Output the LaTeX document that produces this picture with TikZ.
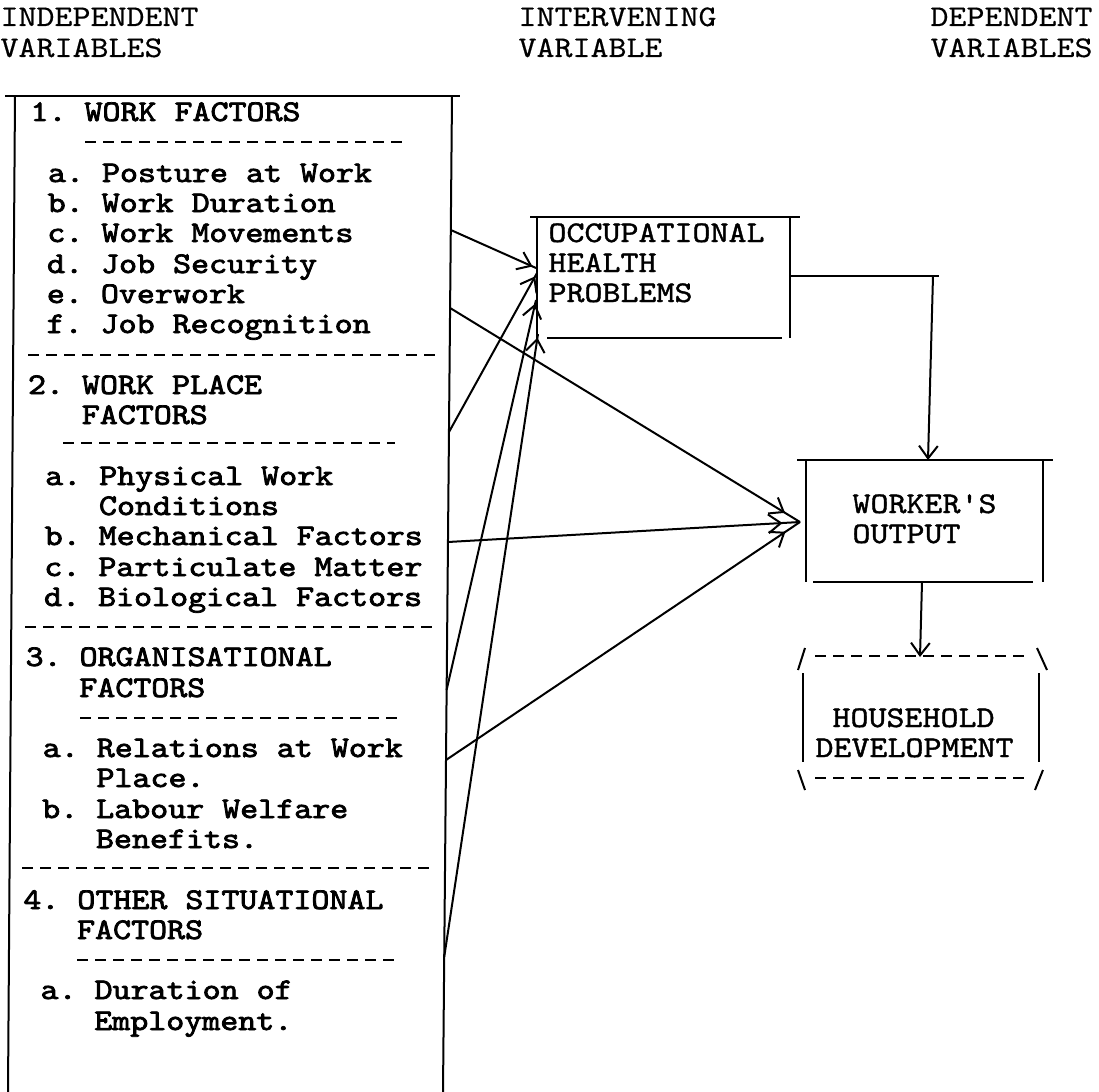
\documentclass[tikz,border=0pt]{standalone}
\usepackage{graphicx}
\usepackage{fontspec}
\newfontfamily\tyr[FakeBold=0.4]{lmmono10-regular.otf}
\newfontfamily\tym[FakeBold=1.2]{lmmono10-regular.otf}
\newfontfamily\tyb[FakeBold=2.4]{lmmono10-regular.otf}
\usetikzlibrary{arrows.meta,decorations.markings}
\newcommand\tyw[1]{\scalebox{1.143}[1]{#1}}
\tikzset{
  ln/.style={line width=0.8pt},
  typedash/.style={line width=1.1pt, dash pattern=on 4.4pt off 2.8pt},
  htxt/.style={anchor=base west, inner sep=0pt, font=\tyr\frenchspacing\fontsize{12}{12}\selectfont},
  txt/.style={anchor=base west, inner sep=0pt, font=\tym\frenchspacing\fontsize{12}{12}\selectfont},
  btxt/.style={anchor=base west, inner sep=0pt, font=\tyb\frenchspacing\fontsize{12}{12}\selectfont},
  tipend/.style={ln, -{Straight Barb[length=5pt,width=7.5pt]}},
  tipat/.style={ln, postaction={decorate}, decoration={markings,
      mark=at position #1 with {\arrow{Straight Barb[length=5pt,width=7.5pt]}}}},
}
\begin{document}
\begin{tikzpicture}[x=0.4pt,y=-0.4pt]
\useasboundingbox (0,0) rectangle (1099,1092);

% headers
\node[htxt] (hind1) at (0,26)   {\tyw{INDEPENDENT}};
\node[htxt] (hind2) at (0,57)   {\tyw{VARIABLES}};
\node[htxt] (hint1) at (518,26) {\tyw{INTERVENING}};
\node[htxt] (hint2) at (518,57) {\tyw{VARIABLE}};
\node[htxt] (hdep1) at (930,26) {\tyw{DEPENDENT}};
\node[htxt] (hdep2) at (930,57) {\tyw{VARIABLES}};

% left box frame
\draw[ln] (5,96) -- (460,96);
\draw[ln] (15,96) -- (8,1092);
\draw[ln] (452,96) -- (443,1092);

% left box text
\node[btxt] (t0)  at (30,121)   {\tyw{1. WORK FACTORS}};
\node[btxt] (t2)  at (47.5,182) {\tyw{a. Posture at Work}};
\node[btxt] (t3)  at (47.2,212) {\tyw{b. Work Duration}};
\node[btxt] (t4)  at (46.9,242) {\tyw{c. Work Movements}};
\node[btxt] (t5)  at (46.6,273) {\tyw{d. Job Security}};
\node[btxt] (t6)  at (46.4,303) {\tyw{e. Overwork}};
\node[btxt] (t7)  at (46.1,333) {\tyw{f. Job Recognition}};
\node[btxt] (t9)  at (27.5,394) {\tyw{2. WORK PLACE}};
\node[btxt] (t10) at (81.3,424) {\tyw{FACTORS}};
\node[btxt] (t12) at (44.7,485) {\tyw{a. Physical Work}};
\node[btxt] (t13) at (98.5,515) {\tyw{Conditions}};
\node[btxt] (t14) at (44.2,545) {\tyw{b. Mechanical Factors}};
\node[btxt] (t15) at (43.9,576) {\tyw{c. Particulate Matter}};
\node[btxt] (t16) at (43.6,606) {\tyw{d. Biological Factors}};
\node[btxt] (t18) at (25.1,666) {\tyw{3. ORGANISATIONAL}};
\node[btxt] (t19) at (78.8,697) {\tyw{FACTORS}};
\node[btxt] (t21) at (42.3,757) {\tyw{a. Relations at Work}};
\node[btxt] (t22) at (96,787)   {\tyw{Place.}};
\node[btxt] (t23) at (41.7,818) {\tyw{b. Labour Welfare}};
\node[btxt] (t24) at (95.5,848) {\tyw{Benefits.}};
\node[btxt] (t26) at (22.9,909) {\tyw{4. OTHER SITUATIONAL}};
\node[btxt] (t27) at (76.6,939) {\tyw{FACTORS}};
\node[btxt] (t29) at (40.1,999) {\tyw{a. Duration of}};
\node[btxt] (t30) at (93.8,1030){\tyw{Employment.}};

% separators
\draw[typedash] (85,142) -- (405,142);
\draw[typedash] (28,355) -- (440,355);
\draw[typedash] (63,443) -- (395,443);
\draw[typedash] (25,627) -- (436,627);
\draw[typedash] (80,718) -- (400,718);
\draw[typedash] (22,868) -- (433,868);
\draw[typedash] (77,960) -- (397,960);

% OCCUPATIONAL HEALTH PROBLEMS
\node[txt] (oh1t) at (548,242) {\tyw{OCCUPATIONAL}};
\node[txt] (oh2t) at (548,272) {\tyw{HEALTH}};
\node[txt] (oh3t) at (548,302) {\tyw{PROBLEMS}};
\draw[ln] (530,217) -- (800,217);
\draw[ln] (537,217) -- (537,340);
\draw[ln] (790,217) -- (790,338);
\draw[ln] (547,338) -- (782,338);

% WORKER'S OUTPUT
\node[txt] (wo1t) at (852,513) {\tyw{WORKER'S}};
\node[txt] (wo2t) at (852,543) {\tyw{OUTPUT}};
\draw[ln] (797,460) -- (1053,460);
\draw[ln] (806,460) -- (806,582);
\draw[ln] (1043,460) -- (1043,582);
\draw[ln] (813,582) -- (1033,582);

% HOUSEHOLD DEVELOPMENT
\node[txt] (hd1) at (832,727) {\tyw{HOUSEHOLD}};
\node[txt] (hd2) at (815,757) {\tyw{DEVELOPMENT}};
\draw[typedash] (815,656) -- (1030,656);
\draw[typedash] (815,778) -- (1030,778);
\draw[ln] (798,670) -- (805,648);
\draw[ln] (1037,648) -- (1047,670);
\draw[ln] (803,673) -- (803,762);
\draw[ln] (1039,673) -- (1039,762);
\draw[ln] (798,770) -- (805,790);
\draw[ln] (1043,770) -- (1035,790);

% connector end points
\coordinate (s1) at (450.8,230);
\coordinate (s2) at (449,432);
\coordinate (s3) at (446.6,690);
\coordinate (s4) at (444.2,957);
\coordinate (s5) at (450.1,308);
\coordinate (s6) at (448,542);
\coordinate (s7) at (446,760);
\coordinate (oh1) at (536,268);
\coordinate (oh2) at (537,273);
\coordinate (oh3) at (536,300);
\coordinate (oh4) at (538,334);
\coordinate (woL) at (800,522);
\coordinate (ohR) at (790,276);
\coordinate (c1a) at (933,276);
\coordinate (c1b) at (939,276);
\coordinate (woT) at (928,460);
\coordinate (woB) at (922,582);
\coordinate (hdT) at (920,657);

% arrows into OCCUPATIONAL HEALTH PROBLEMS
\draw[tipat=-1.5pt] (s1) -- (oh1);
\draw[tipat=-1.5pt] (s2) -- (oh2);
\draw[tipat=-1.5pt] (s3) -- (oh3);
\draw[tipat=-1.5pt] (s4) -- (oh4);

% arrows into WORKER'S OUTPUT
\draw[tipat=-7pt] (s5) -- (woL);
\draw[tipat=-7pt] (s6) -- (woL);
\draw[tipat=-7pt] (s7) -- (woL);

% OHP -> worker's output -> household
\draw[ln] (ohR) -- (c1b);
\draw[tipend] (c1a) -- (woT);
\draw[tipend] (woB) -- (hdT);
\end{tikzpicture}
\end{document}
